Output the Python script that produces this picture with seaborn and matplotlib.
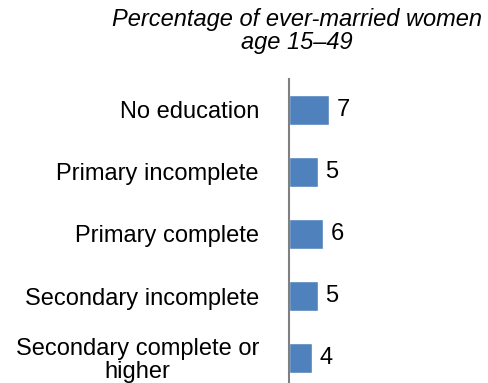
import numpy as np
import pandas as pd
import seaborn as sns
import matplotlib.pyplot as plt

# %%
# data
categories = ["No education", "Primary incomplete", "Primary complete",
              "Secondary incomplete", "Secondary complete or\nhigher"]
percent = [7, 5, 6, 5, 4]
title = "Percentage of ever-married women\nage 15\u201349"

df = pd.DataFrame({"education": categories, "pct": percent})

# %%
sns.set_style("white")
plt.rcParams['font.family'] = ['Liberation Sans', 'DejaVu Sans']
plt.rcParams['text.color'] = 'black'
plt.rcParams['ytick.color'] = 'black'

fig = plt.figure(figsize=(4.89, 3.83), dpi=100)
ax = fig.add_axes([289 / 489, -6 / 383, 191 / 489, 310 / 383])

sns.barplot(x="pct", y="education", data=df, orient="h", color="#4F81BD",
            saturation=1, width=0.48, ax=ax)
ax.bar_label(ax.containers[0], labels=[str(v) for v in percent],
             padding=5.5, fontsize=17, color="black")

ax.set_xlim(0, 33.5)
ax.set_xlabel("")
ax.set_ylabel("")
ax.set_xticks([])
for s in ["top", "right", "bottom"]:
    ax.spines[s].set_visible(False)
ax.spines["left"].set_color("#808080")
ax.spines["left"].set_linewidth(1.5)
ax.tick_params(axis="y", length=0, pad=21.6, labelsize=17, labelcolor="black")
for t in ax.get_yticklabels():
    t.set_multialignment("center")
    t.set_linespacing(1.05)

fig.text(297 / 489, 1 - 31 / 383, title, ha="center", va="center",
         fontsize=17, style="italic", linespacing=1.0)

fig.savefig("out.png", dpi=100)
